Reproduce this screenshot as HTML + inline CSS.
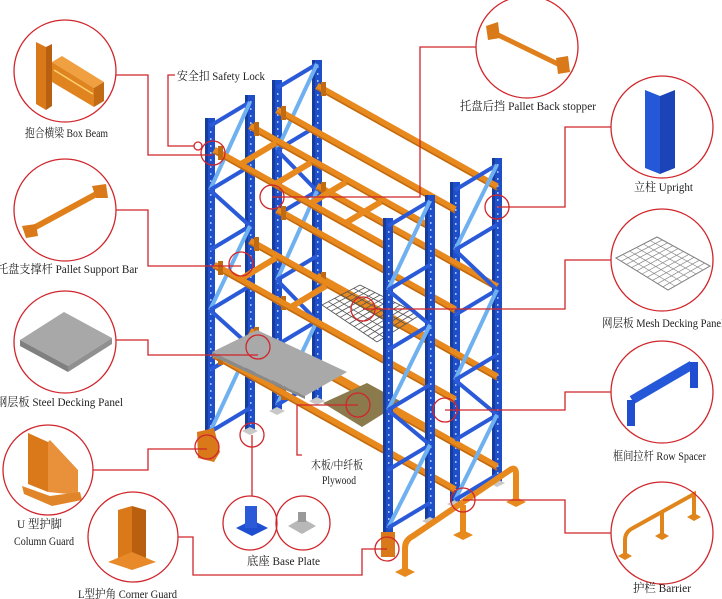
<!DOCTYPE html>
<html><head><meta charset="utf-8"><style>
html,body{margin:0;padding:0;background:#fff;}
svg{display:block}
text{font-family:"Liberation Serif","Noto Serif CJK SC",serif;font-size:12px;fill:#222}
</style></head><body>
<svg id="s" width="722" height="599" viewBox="0 0 722 599" xmlns="http://www.w3.org/2000/svg">
<g id="rack"></g>
<!-- icons inside circles -->
<g id="icons">
  <!-- box beam -->
  <polygon points="36,42 46,47 46,110 36,104" fill="#d9791a"/>
  <polygon points="46,47 52,44 52,106 46,110" fill="#b85f10"/>
  <polygon points="52,62 62,56 104,82 94,88" fill="#f0a040"/>
  <polygon points="52,62 94,88 94,107 52,82" fill="#e08420"/>
  <polygon points="94,88 104,82 104,101 94,107" fill="#c26a14"/>
  <line x1="54" y1="70" x2="93" y2="94" stroke="#ffd070" stroke-width="1.5"/>
  <!-- pallet support bar -->
  <line x1="30" y1="230" x2="100" y2="192" stroke="#e0801c" stroke-width="6"/>
  <polygon points="22,226 36,224 38,236 26,238" fill="#d9791a"/>
  <polygon points="92,186 106,184 108,198 96,198" fill="#d9791a"/>
  <!-- steel deck -->
  <polygon points="20,340 64,312 112,338 68,366" fill="#a8a8a8"/>
  <polygon points="20,340 68,366 68,372 20,346" fill="#808080"/>
  <polygon points="68,366 112,338 112,344 68,372" fill="#909090"/>
  <!-- column guard -->
  <polygon points="28,433 48,442 48,492 28,484" fill="#d9791a"/>
  <polygon points="48,442 50,440 78,470 78,495 48,492" fill="#e8903a"/>
  <polygon points="22,486 50,496 80,492 82,500 52,506 24,494" fill="#e0852a"/>
  <!-- corner guard -->
  <polygon points="118,510 132,506 132,556 118,560" fill="#d9791a"/>
  <polygon points="132,506 146,510 146,558 132,556" fill="#b86010"/>
  <polygon points="108,562 132,552 156,562 132,570" fill="#e88a2a"/>
  <!-- base plates -->
  <polygon points="236,528 252,520 268,528 252,536" fill="#1f4fd0"/>
  <rect x="245" y="506" width="12" height="22" fill="#2a5ad8"/>
  <polygon points="288,526 302,518 316,526 302,534" fill="#b8b8b8"/>
  <rect x="298" y="512" width="8" height="10" fill="#999"/>
  <!-- back stopper -->
  <line x1="492" y1="32" x2="562" y2="66" stroke="#e0801c" stroke-width="5"/>
  <polygon points="486,26 498,22 500,38 488,40" fill="#d9791a"/>
  <polygon points="556,58 568,56 570,72 558,74" fill="#d9791a"/>
  <!-- upright -->
  <polygon points="645,90 660,96 660,174 645,168" fill="#2458d8"/>
  <polygon points="660,96 675,90 675,168 660,174" fill="#1a44b8"/>
  <!-- mesh -->
  <polygon points="616,258 657,237 710,266 668,290" fill="none" stroke="#777" stroke-width="1"/>
  <g stroke="#888" stroke-width="0.7" id="mesh1"></g>
  <!-- row spacer -->
  <line x1="632" y1="400" x2="692" y2="365" stroke="#2458d8" stroke-width="9"/>
  <rect x="627" y="400" width="8" height="26" fill="#1f4fd0"/>
  <rect x="690" y="362" width="8" height="26" fill="#1f4fd0"/>
  <!-- barrier -->
  <path d="M625,555 L625,540 Q625,532 633,528 L694,494 L694,516" fill="none" stroke="#e0851c" stroke-width="4"/>
  <line x1="662" y1="512" x2="662" y2="536" stroke="#e0851c" stroke-width="4"/>
  <polygon points="618,556 625,552 632,556 625,560" fill="#e0851c"/>
  <polygon points="655,536 662,532 669,536 662,540" fill="#e0851c"/>
  <polygon points="687,517 694,513 701,517 694,521" fill="#e0851c"/>
</g>
<!-- callouts -->
<g fill="none" stroke="#d0262b" stroke-width="1.3">
  <circle cx="65" cy="71" r="51"/>
  <circle cx="65" cy="210" r="51"/>
  <circle cx="65" cy="342" r="51"/>
  <circle cx="48" cy="470" r="45"/>
  <circle cx="133" cy="537" r="45"/>
  <circle cx="250" cy="523" r="27"/>
  <circle cx="303" cy="523" r="27"/>
  <circle cx="527" cy="47" r="51"/>
  <circle cx="662" cy="127" r="51"/>
  <circle cx="662" cy="260" r="51"/>
  <circle cx="662" cy="392" r="51"/>
  <circle cx="662" cy="533" r="51"/>
  <line x1="277" y1="523" x2="276" y2="523"/>
  <circle cx="198" cy="146" r="4"/>
  <circle cx="213" cy="153" r="12"/>
  <circle cx="272" cy="197" r="12"/>
  <circle cx="241" cy="264" r="12"/>
  <circle cx="497" cy="207" r="12"/>
  <circle cx="363" cy="309" r="12"/>
  <circle cx="258" cy="347" r="12"/>
  <circle cx="358" cy="405" r="12"/>
  <circle cx="207" cy="447" r="12"/>
  <circle cx="252" cy="435" r="12"/>
  <circle cx="445" cy="410" r="12"/>
  <circle cx="463" cy="500" r="12"/>
  <circle cx="387" cy="549" r="12"/>
  <polyline points="194,146 168,146 168,75 175,75"/>
  <polyline points="116,75 148,75 148,155 213,155"/>
  <polyline points="272,197 420,197 420,47 476,47"/>
  <polyline points="116,210 148,210 148,266 241,266"/>
  <polyline points="497,207 565,207 565,127 611,127"/>
  <polyline points="363,309 565,309 565,260 611,260"/>
  <polyline points="116,340 148,340 148,355 258,355"/>
  <polyline points="358,405 297,405 297,455 302,455"/>
  <polyline points="93,470 148,470 148,449 207,449"/>
  <polyline points="252,435 252,496"/>
  <polyline points="445,410 565,410 565,392 611,392"/>
  <polyline points="463,500 565,500 565,533 611,533"/>
  <polyline points="178,537 193,537 193,575 362,575 362,549 387,549"/>
</g>
<!-- labels -->
<text x="177" y="80" textLength="88" lengthAdjust="spacingAndGlyphs">安全扣 Safety Lock</text>
<text x="25" y="137" textLength="83" lengthAdjust="spacingAndGlyphs">抱合横梁 Box Beam</text>
<text x="-3" y="273" textLength="141" lengthAdjust="spacingAndGlyphs">托盘支撑杆 Pallet Support Bar</text>
<text x="-4" y="406" textLength="127" lengthAdjust="spacingAndGlyphs">钢层板 Steel Decking Panel</text>
<text x="17" y="528" textLength="45" lengthAdjust="spacingAndGlyphs">U 型护脚</text>
<text x="14" y="545" textLength="60" lengthAdjust="spacingAndGlyphs">Column Guard</text>
<text x="78" y="598" textLength="99" lengthAdjust="spacingAndGlyphs">L型护角 Corner Guard</text>
<text x="247" y="565" textLength="73" lengthAdjust="spacingAndGlyphs">底座 Base Plate</text>
<text x="311" y="469" textLength="52" lengthAdjust="spacingAndGlyphs">木板/中纤板</text>
<text x="322" y="484" textLength="34" lengthAdjust="spacingAndGlyphs">Plywood</text>
<text x="460" y="110" textLength="136" lengthAdjust="spacingAndGlyphs">托盘后挡 Pallet Back stopper</text>
<text x="634" y="191" textLength="59" lengthAdjust="spacingAndGlyphs">立柱 Upright</text>
<text x="602" y="327" textLength="122" lengthAdjust="spacingAndGlyphs">网层板 Mesh Decking Panel</text>
<text x="613" y="460" textLength="93" lengthAdjust="spacingAndGlyphs">框间拉杆 Row Spacer</text>
<text x="633" y="592" textLength="58" lengthAdjust="spacingAndGlyphs">护栏 Barrier</text>
</svg>
<script>
(function(){
var NS="http://www.w3.org/2000/svg",g=document.getElementById("rack");
function el(t,a,p){var e=document.createElementNS(NS,t);for(var k in a)e.setAttribute(k,a[k]);(p||g).appendChild(e);return e;}
function ln(x1,y1,x2,y2,c,w){el("line",{x1:x1,y1:y1,x2:x2,y2:y2,stroke:c,"stroke-width":w});}
var S=0.56,F=0.6,OR="#e8891e",ORD="#c06a12";
function upright(x,t,b){
  el("rect",{x:x-5,y:t,width:10,height:b-t,fill:"#1f4fc8"});
  el("rect",{x:x-5,y:t,width:3,height:b-t,fill:"#163c9e"});
  for(var y=t+6;y<b-4;y+=7)el("rect",{x:x,y:y,width:1.5,height:2,fill:"#9fc0ff"});
  el("polygon",{points:(x-8)+","+(b+1)+" "+x+","+(b-3)+" "+(x+8)+","+(b+1)+" "+x+","+(b+5),fill:"#c8c8c8"});
}
function frame(xf,tf,bf,xb,levels){
  var d=F*(xb-xf);
  for(var i=0;i<levels.length;i++){
    var y=levels[i];ln(xf,y,xb,y-d,"#2a5ad8",4);
    if(i<levels.length-1){var y2=levels[i+1];
      if(i%2==0)ln(xf,y2,xb,y-d,"#6fb0f0",4);else ln(xf,y,xb,y2-d,"#2a5ad8",4);}
  }
}
function beam(x1,y,x2){var y2=y+S*(x2-x1);
  ln(x1,y,x2,y2,OR,7);ln(x1,y+3,x2,y2+3,ORD,1.5);
  el("rect",{x:x1+4,y:y-4,width:5,height:14,fill:ORD});
}
function bars(xf,yf,xb,pos){var d=F*(xb-xf);
  pos.forEach(function(x){var yy=yf+S*(x-xf);ln(x,yy,x+(xb-xf),yy-d,OR,6);});}
// row 2 (back)
upright(317,60,400);upright(277,80,410);
frame(277,80,410,317,[88,150,215,280,345,405]);
upright(497,158,482);upright(455,182,503);
beam(317,86,497);beam(277,110,455);
beam(317,186,497);beam(277,210,455);
beam(317,276,497);beam(277,300,455);
beam(317,366,497);beam(277,390,455);
frame(455,182,503,497,[190,250,315,380,440,500]);
// row 1
upright(250,95,430);upright(210,118,440);
frame(210,118,440,250,[126,190,250,310,370,432]);
beam(250,126,430);beam(250,241,430);beam(250,331,430);
bars(214,150,250,[240,275,310,345]);
bars(214,265,250,[240,290]);
beam(214,150,388);beam(214,265,388);beam(214,355,388);
// mesh
var m=el("g",{stroke:"#555","stroke-width":0.8,fill:"none"});
var P=[[322,305],[360,285],[420,315],[377,342]];
for(var i=0;i<=12;i++){var t=i/12;
  ln(P[0][0]+(P[3][0]-P[0][0])*t,P[0][1]+(P[3][1]-P[0][1])*t,P[1][0]+(P[2][0]-P[1][0])*t,P[1][1]+(P[2][1]-P[1][1])*t,"#555",0.8);}
for(var i=0;i<=6;i++){var t=i/6;
  ln(P[0][0]+(P[1][0]-P[0][0])*t,P[0][1]+(P[1][1]-P[0][1])*t,P[3][0]+(P[2][0]-P[3][0])*t,P[3][1]+(P[2][1]-P[3][1])*t,"#555",0.8);}
// steel deck
el("polygon",{points:"212,352 257,330 347,372 305,396",fill:"#a9a9a9"});
el("polygon",{points:"212,352 305,396 305,399 212,356",fill:"#8a8a8a"});
// plywood
el("polygon",{points:"323,403 367,383 402,402 362,427",fill:"#8b7a4c"});
// right front frame
upright(430,195,520);upright(388,218,535);
frame(388,218,535,430,[226,290,350,410,470,528]);
// column guard, corner guard
el("polygon",{points:"197,432 214,428 220,452 214,462 198,458",fill:"#d9791a"});
el("rect",{x:381,y:532,width:14,height:25,fill:"#d9791a"});
// barrier
el("path",{d:"M405,572 L405,548 Q405,540 413,536 L510,470 Q516,466 516,474 L516,500",fill:"none",stroke:OR,"stroke-width":6});
ln(463,505,463,535,OR,6);
[[405,572],[463,535],[516,502]].forEach(function(p){el("polygon",{points:(p[0]-10)+","+p[1]+" "+p[0]+","+(p[1]-5)+" "+(p[0]+10)+","+p[1]+" "+p[0]+","+(p[1]+5),fill:OR});});
// mesh icon grid
var mg=document.getElementById("mesh1");
var Q=[[616,258],[657,237],[710,266],[668,290]];
for(var i=0;i<=10;i++){var t=i/10;el("line",{x1:Q[0][0]+(Q[3][0]-Q[0][0])*t,y1:Q[0][1]+(Q[3][1]-Q[0][1])*t,x2:Q[1][0]+(Q[2][0]-Q[1][0])*t,y2:Q[1][1]+(Q[2][1]-Q[1][1])*t},mg);}
for(var i=0;i<=6;i++){var t=i/6;el("line",{x1:Q[0][0]+(Q[1][0]-Q[0][0])*t,y1:Q[0][1]+(Q[1][1]-Q[0][1])*t,x2:Q[3][0]+(Q[2][0]-Q[3][0])*t,y2:Q[3][1]+(Q[2][1]-Q[3][1])*t},mg);}
})();
</script>
</body></html>
